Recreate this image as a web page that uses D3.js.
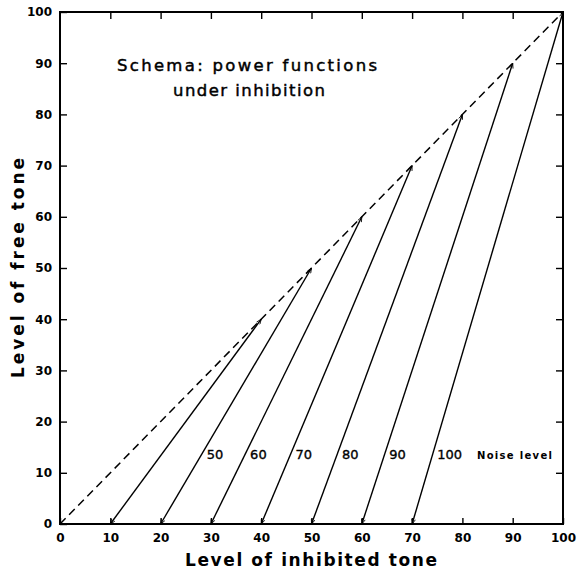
<!DOCTYPE html>
<html>
<head>
<meta charset="utf-8">
<script src="https://cdn.jsdelivr.net/npm/d3@7"></script>
<style>
  html, body { margin: 0; padding: 0; background: #fff; }
  svg { display: block; }
  text { font-family: "DejaVu Sans", sans-serif; fill: #000; }
</style>
</head>
<body>
<svg id="chart" width="580" height="572"></svg>
<script>
// Inhibited-tone level where each function starts (free tone = 0)
const startLevels = [10, 20, 30, 40, 50, 60, 70];
// Inhibited-tone level where each function meets the diagonal
const endLevels = [40, 50, 60, 70, 80, 90, 100];
// Noise level annotations (the first function carries none)
const noiseLabels = ["", "50", "60", "70", "80", "90", "100"];
// Free-tone level at which the noise labels sit
const labelLevel = 14;
const tickValues = [0, 10, 20, 30, 40, 50, 60, 70, 80, 90, 100];
const innerTicks = [10, 20, 30, 40, 50, 60, 70, 80, 90];

const svg = d3.select("#chart");
const plot = { left: 60, right: 563, top: 12, bottom: 524 };

const x = d3.scaleLinear().domain([0, 100]).range([plot.left, plot.right]);
const y = d3.scaleLinear().domain([0, 100]).range([plot.bottom, plot.top]);

// arrowheads on the ends of each function
const defs = svg.append("defs");
defs.append("marker")
  .attr("id", "arrow")
  .attr("viewBox", "0 0 10 10")
  .attr("refX", 10).attr("refY", 5)
  .attr("markerWidth", 6).attr("markerHeight", 5)
  .attr("markerUnits", "userSpaceOnUse")
  .attr("orient", "auto-start-reverse")
  .append("path")
  .attr("d", "M0,1 L10,5 L0,9")
  .attr("fill", "none")
  .attr("stroke", "#000")
  .attr("stroke-width", 1.6);

// axes with inward ticks
const bottomAxis = d3.axisBottom(x).tickValues(tickValues).tickSize(-6).tickPadding(9);
const leftAxis = d3.axisLeft(y).tickValues(tickValues).tickSize(-7).tickPadding(8);
const topAxis = d3.axisTop(x).tickValues(innerTicks).tickSize(-7).tickFormat("");
const rightAxis = d3.axisRight(y).tickValues(innerTicks).tickSize(-7).tickFormat("");

function style(g) {
  g.select(".domain").remove();
  g.selectAll(".tick line").attr("stroke", "#000").attr("stroke-width", 1.4);
  g.selectAll(".tick text")
    .style("font-family", "'DejaVu Sans', sans-serif")
    .style("font-weight", "bold")
    .style("font-size", "12px")
    .attr("fill", "#000");
}

svg.append("g").attr("transform", `translate(0,${plot.bottom})`).call(bottomAxis).call(style);
svg.append("g").attr("transform", `translate(${plot.left},0)`).call(leftAxis).call(style);
svg.append("g").attr("transform", `translate(0,${plot.top})`).call(topAxis).call(style);
svg.append("g").attr("transform", `translate(${plot.right},0)`).call(rightAxis).call(style);

// frame
svg.append("rect")
  .attr("x", plot.left).attr("y", plot.top)
  .attr("width", plot.right - plot.left).attr("height", plot.bottom - plot.top)
  .attr("fill", "none").attr("stroke", "#000").attr("stroke-width", 2);

const line = d3.line().x(d => x(d[0])).y(d => y(d[1]));

// equal-loudness diagonal
svg.append("path")
  .attr("d", line([[0, 0], [100, 100]]))
  .attr("fill", "none")
  .attr("stroke", "#000")
  .attr("stroke-width", 1.5)
  .attr("stroke-dasharray", "8,5");

// power functions under inhibition
startLevels.forEach((s, i) => {
  const e = endLevels[i];
  svg.append("path")
    .attr("d", line([[s, 0], [e, e]]))
    .attr("fill", "none")
    .attr("stroke", "#000")
    .attr("stroke-width", 1.4)
    .attr("marker-start", "url(#arrow)")
    .attr("marker-end", "url(#arrow)");

  if (noiseLabels[i]) {
    const lx = s + (e - s) * labelLevel / e;
    svg.append("text")
      .attr("x", x(lx) + 4)
      .attr("y", y(labelLevel) + 7)
      .style("font-size", "13px")
      .attr("stroke", "#000").attr("stroke-width", 0.35)
      .text(noiseLabels[i]);
  }
});

svg.append("text")
  .attr("x", 477).attr("y", y(labelLevel) + 7)
  .attr("textLength", 75).attr("lengthAdjust", "spacing")
  .style("font-size", "10px").style("font-weight", "bold")
  .text("Noise level");

// title
svg.append("text")
  .attr("x", 117).attr("y", 71)
  .attr("textLength", 260).attr("lengthAdjust", "spacing")
  .style("font-size", "16.5px")
  .attr("stroke", "#000").attr("stroke-width", 0.45)
  .text("Schema: power functions");
svg.append("text")
  .attr("x", 173).attr("y", 96)
  .attr("textLength", 152).attr("lengthAdjust", "spacing")
  .style("font-size", "16.5px")
  .attr("stroke", "#000").attr("stroke-width", 0.45)
  .text("under inhibition");

// axis titles
svg.append("text")
  .attr("x", 185).attr("y", 566)
  .attr("textLength", 252).attr("lengthAdjust", "spacing")
  .style("font-size", "17px").style("font-weight", "bold")
  .text("Level of inhibited tone");

svg.append("text")
  .attr("transform", "translate(24,378) rotate(-90)")
  .attr("x", 0).attr("y", 0)
  .attr("textLength", 220).attr("lengthAdjust", "spacing")
  .style("font-size", "17px").style("font-weight", "bold")
  .text("Level of free tone");
</script>
</body>
</html>
